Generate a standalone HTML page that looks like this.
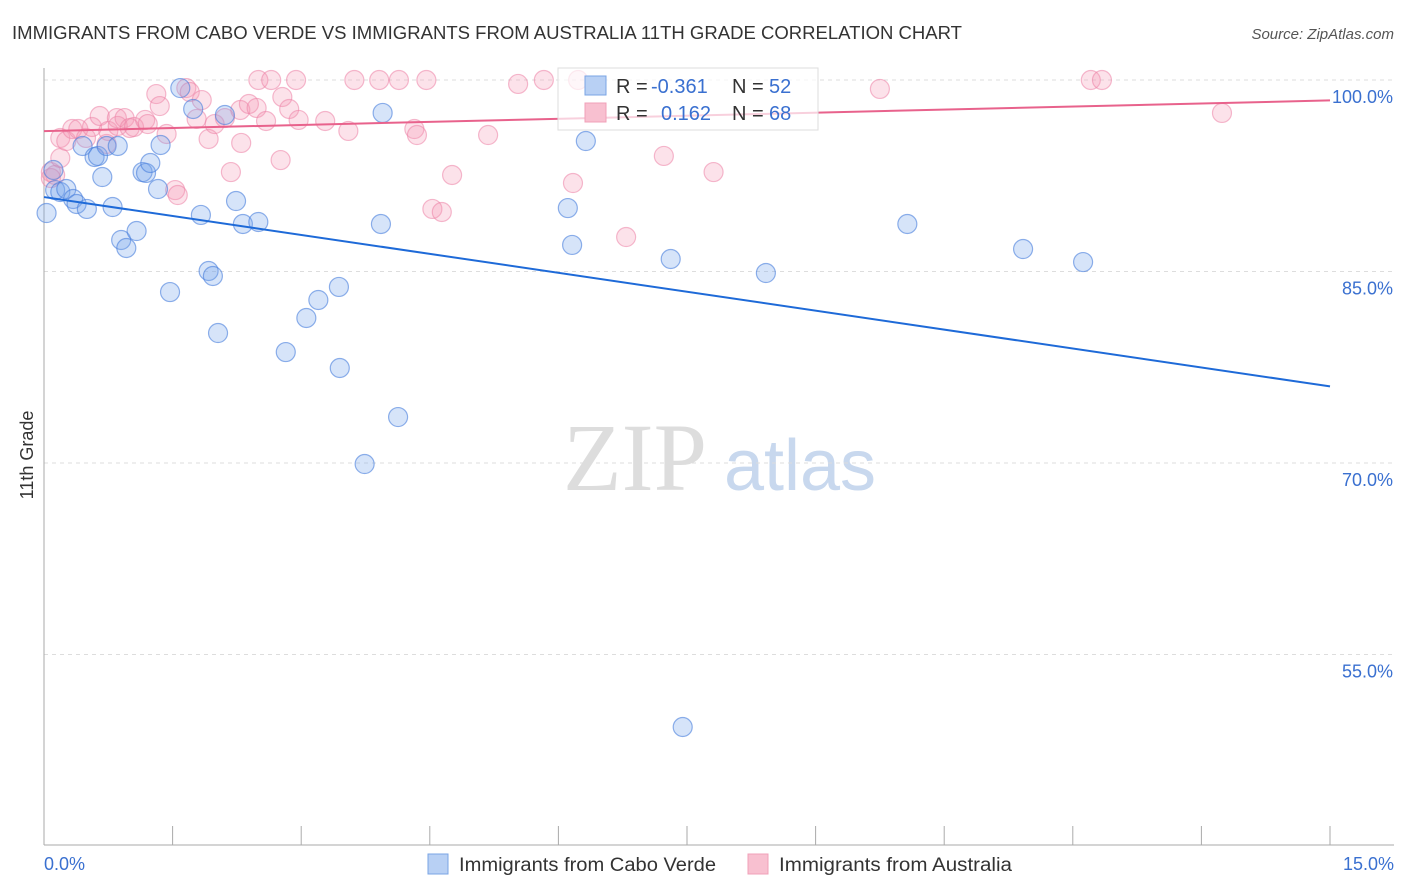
<!DOCTYPE html>
<html><head><meta charset="utf-8"><style>
body{margin:0;background:#fff;font-family:"Liberation Sans",sans-serif;}
svg{display:block}
</style></head><body>
<svg id="chart" width="1406" height="892">
<text x="12" y="39" font-size="18" fill="#333" textLength="950" lengthAdjust="spacingAndGlyphs">IMMIGRANTS FROM CABO VERDE VS IMMIGRANTS FROM AUSTRALIA 11TH GRADE CORRELATION CHART</text>
<text x="1394" y="39" font-size="15" fill="#555" font-style="italic" text-anchor="end">Source: ZipAtlas.com</text>
<text x="33" y="455" font-size="18" fill="#333" text-anchor="middle" transform="rotate(-90 33 455)">11th Grade</text>
<g>
<text x="635" y="490" font-size="96" fill="#ddd" font-family="Liberation Serif,serif" text-anchor="middle">ZIP</text>
<text x="800" y="490" font-size="72" fill="#c8d8ee" text-anchor="middle">atlas</text>
</g>
<g id="grid"></g>
<g id="axes"></g>
<g id="marks"></g>
<g>
<rect x="558" y="68" width="260" height="62" fill="#fff" fill-opacity="0.7" stroke="#ddd"/>
<rect x="585" y="76" width="21" height="19" fill="#b8d0f4" stroke="#7aa4e4"/>
<rect x="585" y="103" width="21" height="19" fill="#f8c0d0" stroke="#f0a0b8"/>
<text x="616" y="93" font-size="20" fill="#333">R = <tspan x="651" fill="#3a70d0">-0.361</tspan><tspan x="732">N = </tspan><tspan x="769" fill="#3a70d0">52</tspan></text>
<text x="616" y="120" font-size="20" fill="#333">R = <tspan x="661" fill="#3a70d0">0.162</tspan><tspan x="732">N = </tspan><tspan x="769" fill="#3a70d0">68</tspan></text>
</g>
<g>
<rect x="428" y="854" width="20" height="20" fill="#b8d0f4" stroke="#7aa4e4"/>
<text x="459" y="871" font-size="19" fill="#333" textLength="257" lengthAdjust="spacingAndGlyphs">Immigrants from Cabo Verde</text>
<rect x="748" y="854" width="20" height="20" fill="#f8c0d0" stroke="#f0a0b8"/>
<text x="779" y="871" font-size="19" fill="#333" textLength="233" lengthAdjust="spacingAndGlyphs">Immigrants from Australia</text>
</g>
</svg>
<script>
const yTicks=[100,85,70,55];
const yTickLabels=["100.0%","85.0%","70.0%","55.0%"];
const xTickLabels=["0.0%","15.0%"];
const blueX=[0.03,0.11,0.13,0.19,0.26,0.34,0.38,0.50,0.45,0.59,0.63,0.68,0.73,0.86,0.80,0.90,0.96,1.08,1.15,1.19,1.24,1.33,1.36,1.47,1.59,1.74,1.83,1.92,1.97,2.03,2.11,2.24,2.32,2.50,2.82,3.06,3.20,3.44,3.45,3.74,3.93,3.95,4.13,6.11,6.16,6.32,7.31,7.45,8.42,10.07,11.42,12.12];
const blueY=[89.58,92.95,91.38,91.23,91.46,90.68,90.29,89.90,94.83,93.97,94.05,92.40,94.83,94.83,90.05,87.47,86.84,88.17,92.79,92.72,93.50,91.46,94.91,83.39,99.37,97.73,89.43,85.04,84.65,80.18,97.26,90.52,88.72,88.88,78.69,81.36,82.77,83.79,77.44,69.92,88.72,97.42,73.60,89.97,87.08,95.22,85.98,49.32,84.88,88.72,86.76,85.74];
const pinkX=[0.08,0.13,0.08,0.19,0.19,0.26,0.33,0.40,0.49,0.56,0.65,0.73,0.75,0.85,0.86,0.94,1.00,1.05,1.18,1.21,1.31,1.35,1.43,1.53,1.56,1.66,1.70,1.84,1.78,1.92,1.99,2.11,2.18,2.30,2.29,2.39,2.50,2.48,2.59,2.65,2.78,2.76,2.86,2.94,2.97,3.28,3.55,3.62,3.91,4.14,4.32,4.35,4.46,4.53,4.64,4.76,5.18,5.53,5.83,6.17,6.23,6.79,7.23,7.81,9.75,12.21,12.34,13.74];
const pinkY=[92.79,92.56,92.32,95.46,93.89,95.22,96.16,96.16,95.46,96.32,97.18,94.99,96.01,97.02,96.40,97.02,96.24,96.32,96.87,96.55,98.90,97.96,95.77,91.38,90.99,99.37,99.06,98.43,96.95,95.38,96.55,97.02,92.79,95.07,97.65,98.12,100,97.81,96.79,100,98.67,93.73,97.73,100,96.87,96.79,96.01,100,100,100,96.16,95.69,100,89.90,89.66,92.56,95.69,99.69,100,91.93,100,87.70,94.05,92.79,99.30,100,100,97.42];
const blueTrend=[90.83,76.0];
const pinkTrend=[96.0,98.4];
const NS="http://www.w3.org/2000/svg";
const X0=44,X1=1330,Y100=80,PX15=191.5;
const sx=v=>X0+(v/15)*(X1-X0);
const sy=v=>Y100+(100-v)/15*PX15;
function mk(tag,attrs,parent){const e=document.createElementNS(NS,tag);for(const k in attrs)e.setAttribute(k,attrs[k]);document.getElementById(parent).appendChild(e);return e;}
yTicks.forEach((t,i)=>{
 const l=mk('line',{x1:X0,x2:1394,y1:sy(t),y2:sy(t),stroke:'#ddd','stroke-dasharray':'4,4'},'grid');
 
 
 const tx=mk('text',{x:1393,y:sy(t)+23,'font-size':18,fill:'#3a70d0','text-anchor':'end'},'axes');
 tx.textContent=yTickLabels[i];
 
 
});
const ya=mk('line',{x1:X0,x2:X0,y1:68,y2:845,stroke:'#aaa'},'axes');


const xa=mk('line',{x1:X0,x2:1394,y1:845,y2:845,stroke:'#aaa'},'axes');


for(let i=0;i<=10;i++){
 const t=mk('line',{x1:sx(i*1.5),x2:sx(i*1.5),y1:826,y2:845,stroke:'#aaa'},'axes');
 
 
}
[[0,'start',44],[15,'end',1394]].forEach((d,i)=>{
 const tx=mk('text',{x:d[2],y:870,'font-size':18,fill:'#3a70d0','text-anchor':d[1]},'axes');
 tx.textContent=xTickLabels[i];
 
 
});
pinkX.forEach((x,i)=>{
 const c=mk('circle',{cx:sx(x),cy:sy(pinkY[i]),r:9.5,fill:'rgba(244,150,180,0.28)',stroke:'rgba(236,130,165,0.55)','stroke-width':1.2},'marks');
 
 
});
blueX.forEach((x,i)=>{
 const c=mk('circle',{cx:sx(x),cy:sy(blueY[i]),r:9.5,fill:'rgba(120,165,235,0.3)',stroke:'rgba(70,125,220,0.6)','stroke-width':1.2},'marks');
 
 
});
const bl=mk('line',{x1:sx(0),x2:sx(15),y1:sy(blueTrend[0]),y2:sy(blueTrend[1]),stroke:'#1e6ad8','stroke-width':2},'marks');


const pl=mk('line',{x1:sx(0),x2:sx(15),y1:sy(pinkTrend[0]),y2:sy(pinkTrend[1]),stroke:'#e8628c','stroke-width':2},'marks');


</script>
</body></html>
